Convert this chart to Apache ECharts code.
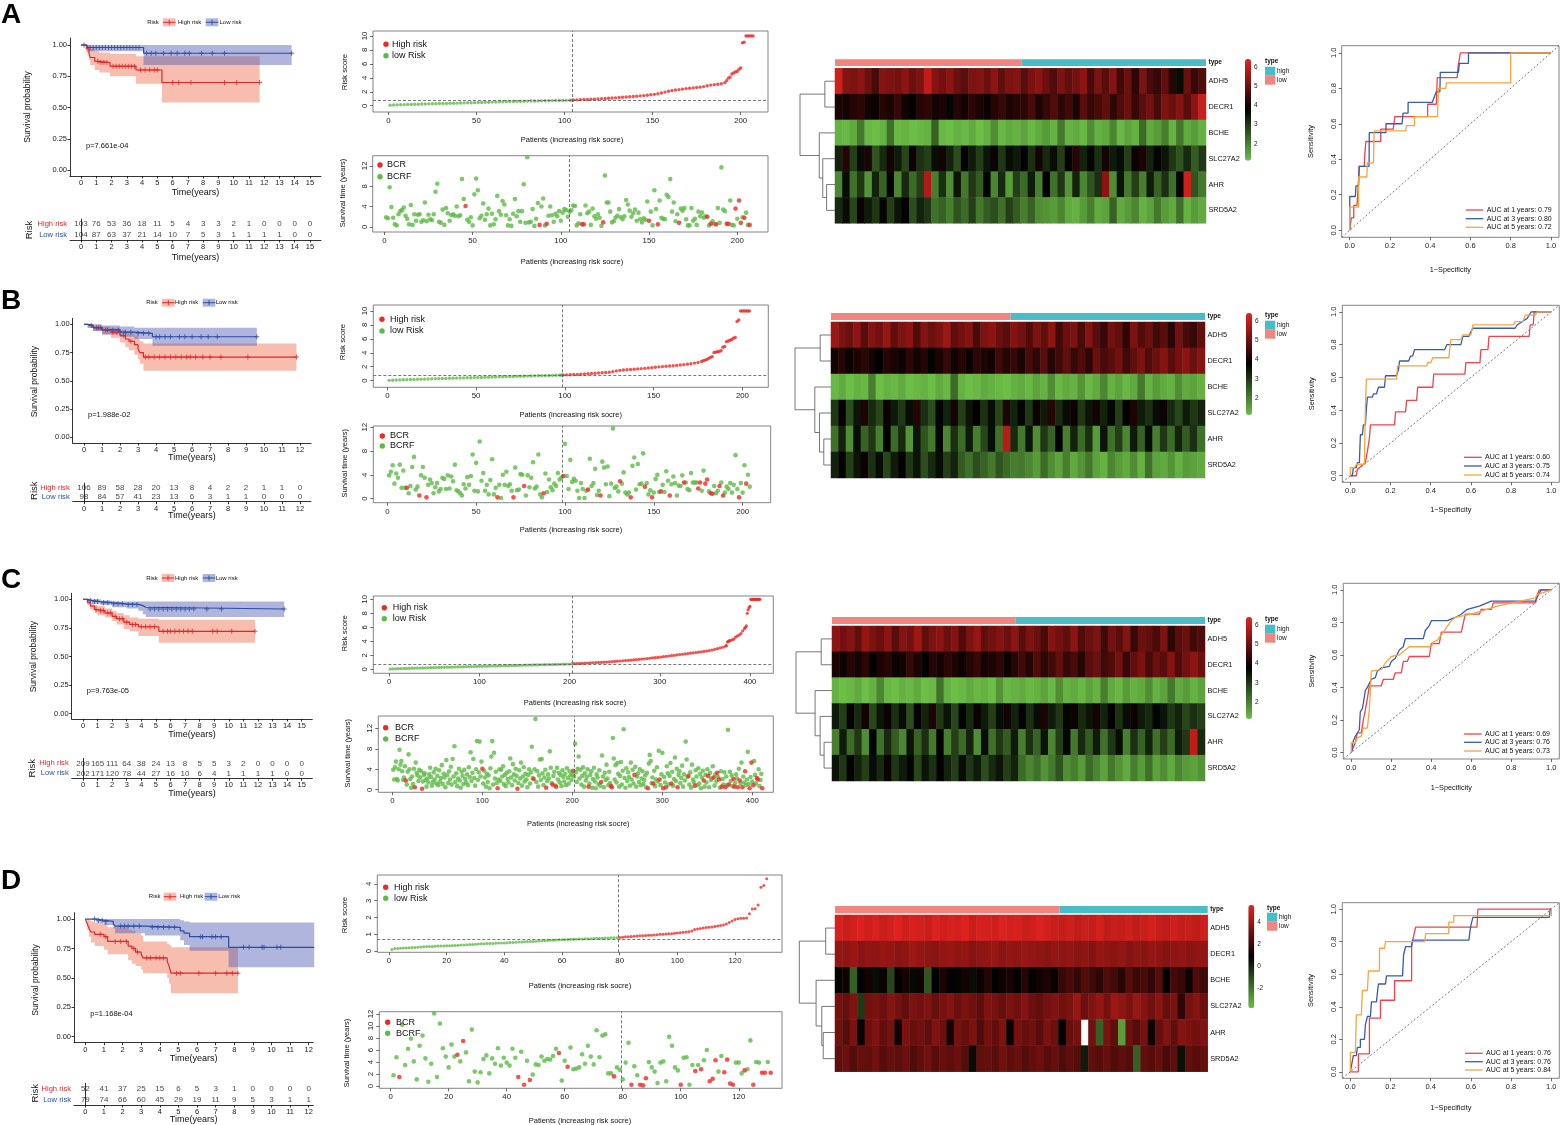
<!DOCTYPE html>
<html>
<head>
<meta charset="UTF-8">
<title>Risk model panels</title>
<script src="https://cdn.jsdelivr.net/npm/echarts@6.0.0/dist/echarts.min.js"></script>
<style>
html,body{margin:0;padding:0;background:#fff;}
#main{width:1561px;height:1125px;}
</style>
</head>
<body>
<div id="main"></div>
<script>
// ---------------- data ----------------
var genes = ['ADH5','DECR1','BCHE','SLC27A2','AHR','SRD5A2'];
var years15 = [0,1,2,3,4,5,6,7,8,9,10,11,12,13,14,15];
var years12 = [0,1,2,3,4,5,6,7,8,9,10,11,12];
var probTicks = [0,0.25,0.5,0.75,1];
var rocTicks = [0,0.2,0.4,0.6,0.8,1];

// Kaplan-Meier steps [time, survival], bands [time, lower, upper], censor times
var kmA_high = [[0,1],[0.35,0.97],[0.52,0.93],[0.6,0.9],[0.9,0.87],[1.2,0.86],[1.9,0.83],[3.6,0.8],[5.3,0.7],[11.7,0.7]];
var kmA_highBand = [[0,1,1],[0.35,0.94,1],[0.52,0.88,0.99],[0.6,0.84,0.97],[0.9,0.8,0.95],[1.2,0.78,0.94],[1.9,0.75,0.93],[3.6,0.69,0.91],[5.3,0.54,0.91],[11.7,0.54,0.91]];
var kmA_low = [[0,1],[0.4,0.98],[4.1,0.934],[13.8,0.934]];
var kmA_lowBand = [[0,1,1],[0.4,0.95,1],[4.1,0.84,1],[13.8,0.84,1]];
var censA_high = [1.1,1.3,1.5,1.7,2.1,2.3,2.5,2.7,2.9,3.1,3.3,3.5,3.9,4.2,4.5,4.8,5.0,6.0,6.4,7.2,9.4,10.2,11.7];
var censA_low = [0.2,0.6,0.8,1.0,1.2,1.4,1.6,1.8,2.0,2.2,2.4,2.6,2.8,3.0,3.2,3.4,3.6,3.8,4.3,4.6,4.9,5.4,5.9,6.3,6.8,7.1,7.9,8.6,9.4,13.8];
var tabA_high = [103,76,53,36,18,11,5,4,3,3,2,1,0,0,0,0];
var tabA_low = [104,87,63,37,21,14,10,7,5,3,1,1,1,1,0,0];

var kmB_high = [[0,1],[0.2,0.99],[0.5,0.97],[1.0,0.95],[1.5,0.93],[2.0,0.9],[2.3,0.87],[2.5,0.85],[2.8,0.82],[3.0,0.78],[3.1,0.75],[3.3,0.71],[11.8,0.71]];
var kmB_highBand = [[0,1,1],[0.2,0.97,1],[0.5,0.94,0.99],[1.0,0.91,0.98],[1.5,0.88,0.97],[2.0,0.84,0.95],[2.3,0.8,0.93],[2.5,0.77,0.92],[2.8,0.73,0.9],[3.0,0.69,0.87],[3.1,0.65,0.85],[3.3,0.59,0.83],[11.8,0.59,0.83]];
var kmB_low = [[0,1],[0.2,0.99],[0.5,0.97],[1.0,0.95],[2.0,0.93],[2.8,0.92],[3.8,0.89],[9.6,0.89]];
var kmB_lowBand = [[0,1,1],[0.2,0.97,1],[0.5,0.94,1],[1.0,0.91,0.99],[2.0,0.89,0.98],[2.8,0.87,0.97],[3.8,0.81,0.97],[9.6,0.81,0.97]];
var censB_high = [0.8,1.2,1.6,1.8,2.2,2.6,3.4,3.6,3.9,4.2,4.5,4.8,5.1,5.4,5.7,5.9,6.2,6.6,7.0,7.6,9.1,11.8];
var censB_low = [0.4,0.7,0.9,1.3,1.6,1.9,2.3,2.6,3.0,3.3,3.6,4.0,4.2,4.5,4.8,5.3,5.6,6.0,6.5,6.9,7.4,9.6];
var tabB_high = [106,89,58,28,20,13,8,4,2,2,1,1,0];
var tabB_low = [98,84,57,41,23,13,6,3,1,1,0,0,0];

var kmC_high = [[0,1],[0.3,0.97],[0.5,0.94],[0.8,0.91],[1.0,0.9],[1.5,0.88],[2.0,0.85],[2.3,0.83],[2.8,0.8],[3.2,0.78],[3.8,0.76],[5.2,0.72],[11.8,0.72]];
var kmC_highBand = [[0,1,1],[0.3,0.95,0.99],[0.5,0.91,0.97],[0.8,0.88,0.95],[1.0,0.86,0.94],[1.5,0.84,0.92],[2.0,0.81,0.9],[2.3,0.78,0.88],[2.8,0.74,0.86],[3.2,0.72,0.84],[3.8,0.68,0.83],[5.2,0.62,0.82],[11.8,0.62,0.82]];
var kmC_low = [[0,1],[0.3,0.99],[0.6,0.98],[1.2,0.97],[2.0,0.96],[3.0,0.955],[3.8,0.945],[4.1,0.93],[4.3,0.915],[13.8,0.915]];
var kmC_lowBand = [[0,1,1],[0.3,0.97,1],[0.6,0.96,1],[1.2,0.95,0.99],[2.0,0.93,0.98],[3.0,0.92,0.98],[3.8,0.9,0.98],[4.1,0.87,0.98],[4.3,0.845,0.98],[13.8,0.845,0.98]];
var censC_high = [0.9,1.2,1.4,1.7,1.9,2.2,2.5,2.7,3.0,3.4,3.6,4.0,4.3,4.6,4.9,5.5,5.8,6.0,6.3,6.6,6.9,7.2,7.5,8.9,9.2,10.2,11.8];
var censC_low = [0.5,0.8,1.0,1.4,1.7,2.1,2.4,2.7,3.1,3.4,3.7,4.6,4.9,5.2,5.5,5.8,6.1,6.4,6.7,7.0,7.3,7.6,8.5,9.5,13.8];
var tabC_high = [209,165,111,64,38,24,13,8,5,5,3,2,0,0,0,0];
var tabC_low = [202,171,120,78,44,27,16,10,6,4,1,1,1,1,0,0];

var kmD_high = [[0,1],[0.1,0.96],[0.2,0.92],[0.3,0.89],[0.5,0.87],[1.0,0.85],[1.2,0.81],[2.3,0.77],[2.5,0.75],[2.7,0.72],[3.0,0.7],[3.1,0.67],[4.4,0.64],[4.5,0.6],[4.6,0.54],[8.2,0.54]];
var kmD_highBand = [[0,1,1],[0.1,0.91,1],[0.2,0.85,0.99],[0.3,0.8,0.98],[0.5,0.77,0.97],[1.0,0.74,0.96],[1.2,0.7,0.93],[2.3,0.65,0.91],[2.5,0.62,0.9],[2.7,0.6,0.88],[3.0,0.57,0.86],[3.1,0.54,0.81],[4.4,0.5,0.79],[4.5,0.45,0.78],[4.6,0.37,0.76],[8.2,0.37,0.76]];
var kmD_low = [[0,1],[0.6,0.99],[1.0,0.98],[1.5,0.96],[1.6,0.94],[3.2,0.93],[5.1,0.9],[5.3,0.88],[5.6,0.85],[7.7,0.76],[12.3,0.76]];
var kmD_lowBand = [[0,1,1],[0.6,0.97,1],[1.0,0.95,1],[1.5,0.92,1],[1.6,0.88,1],[3.2,0.86,1],[5.1,0.82,0.99],[5.3,0.78,0.98],[5.6,0.73,0.97],[7.7,0.59,0.97],[12.3,0.59,0.97]];
var censD_high = [0.8,1.1,1.6,1.9,2.2,2.6,2.8,3.3,3.5,3.8,4.0,4.2,4.9,5.1,6.1,7.0,7.6,7.9,8.2];
var censD_low = [0.5,0.7,0.9,1.1,1.9,2.1,2.3,2.6,2.9,3.6,3.9,4.2,4.5,4.8,6.2,6.3,6.8,7.0,7.3,8.5,8.8,9.5,9.6,10.3,10.5,12.3];
var tabD_high = [52,41,37,25,15,6,5,3,1,0,0,0,0];
var tabD_low = [79,74,66,60,45,29,19,11,9,5,3,1,1];

var pvals = ['p=7.661e-04','p=1.988e-02','p=9.763e-05','p=1.168e-04'];

// risk scores [patient, score]
var riskA = [[1,0.08],[3,0.1],[5,0.12],[7,0.14],[9,0.16],[11,0.18],[13,0.19],[15,0.21],[17,0.22],[19,0.24],[21,0.25],[23,0.27],[25,0.28],[27,0.29],[29,0.31],[31,0.32],[33,0.33],[35,0.35],[37,0.36],[39,0.37],[41,0.39],[43,0.4],[45,0.42],[47,0.43],[49,0.44],[51,0.46],[53,0.47],[55,0.49],[57,0.5],[59,0.52],[61,0.53],[63,0.55],[65,0.56],[67,0.58],[69,0.59],[71,0.61],[73,0.62],[75,0.63],[77,0.65],[79,0.66],[81,0.67],[83,0.68],[85,0.69],[87,0.7],[89,0.71],[91,0.72],[93,0.73],[95,0.74],[97,0.75],[99,0.76],[101,0.77],[103,0.79],[104,0.8],
 [105,0.82],[107,0.84],[109,0.86],[111,0.88],[113,0.9],[115,0.92],[117,0.94],[119,0.97],[121,1.0],[123,1.03],[125,1.06],[127,1.1],[129,1.13],[131,1.17],[133,1.21],[135,1.25],[137,1.29],[139,1.33],[141,1.37],[143,1.41],[145,1.45],[147,1.5],[149,1.56],[151,1.63],[153,1.72],[155,1.83],[157,1.95],[159,2.07],[161,2.17],[163,2.24],[165,2.31],[167,2.38],[169,2.45],[171,2.5],[173,2.55],[175,2.6],[177,2.66],[179,2.74],[181,2.85],[183,2.95],[185,3.02],[187,3.08],[189,3.15],[191,3.3],[192,3.6],[193,3.95],[194,4.1],[195,4.55],[196,4.7],[197,4.85],[198,4.9],[199,5.2],[200,5.4],[201,9.0],[202,9.1],[203,10],[204,10],[205,10],[206,10],[207,10]];
var riskB = [[1,0.05],[3,0.07],[5,0.09],[7,0.11],[9,0.13],[11,0.15],[13,0.17],[15,0.18],[17,0.2],[19,0.22],[21,0.23],[23,0.25],[25,0.26],[27,0.28],[29,0.29],[31,0.31],[33,0.32],[35,0.34],[37,0.35],[39,0.37],[41,0.38],[43,0.4],[45,0.41],[47,0.43],[49,0.44],[51,0.46],[53,0.47],[55,0.49],[57,0.5],[59,0.52],[61,0.53],[63,0.55],[65,0.56],[67,0.58],[69,0.59],[71,0.6],[73,0.62],[75,0.63],[77,0.64],[79,0.66],[81,0.67],[83,0.69],[85,0.7],[87,0.72],[89,0.73],[91,0.75],[93,0.76],[95,0.78],[97,0.79],[98,0.8],
 [99,0.82],[101,0.84],[103,0.86],[105,0.88],[107,0.9],[109,0.93],[111,0.96],[113,0.99],[115,1.02],[117,1.06],[119,1.1],[121,1.14],[123,1.18],[125,1.22],[127,1.3],[129,1.4],[131,1.48],[133,1.53],[135,1.57],[137,1.61],[139,1.65],[141,1.69],[143,1.73],[145,1.77],[147,1.81],[149,1.86],[151,1.92],[153,1.98],[155,2.02],[157,2.06],[159,2.1],[161,2.14],[163,2.19],[165,2.24],[167,2.3],[169,2.37],[171,2.44],[173,2.52],[175,2.6],[177,2.75],[178,2.85],[179,2.95],[180,3.05],[181,3.2],[182,3.35],[183,3.45],[184,4.05],[185,4.1],[186,4.15],[187,4.2],[188,4.3],[189,4.8],[190,4.9],[191,5.6],[192,5.7],[193,5.8],[194,5.9],[195,6.1],[196,6.2],[197,8.5],[198,8.7],[199,10],[200,10],[201,10],[202,10],[203,10],[204,10]];
var riskC = [[1,0.03],[4,0.05],[7,0.07],[10,0.09],[13,0.1],[16,0.12],[19,0.13],[22,0.14],[25,0.16],[28,0.17],[31,0.18],[34,0.19],[37,0.2],[40,0.21],[43,0.22],[46,0.23],[49,0.25],[52,0.26],[55,0.27],[58,0.28],[61,0.29],[64,0.3],[67,0.31],[70,0.32],[73,0.33],[76,0.34],[79,0.35],[82,0.36],[85,0.37],[88,0.38],[91,0.39],[94,0.4],[97,0.41],[100,0.42],[103,0.43],[106,0.44],[109,0.45],[112,0.46],[115,0.47],[118,0.48],[121,0.49],[124,0.5],[127,0.51],[130,0.52],[133,0.53],[136,0.54],[139,0.55],[142,0.56],[145,0.57],[148,0.58],[151,0.59],[154,0.6],[157,0.61],[160,0.62],[163,0.63],[166,0.64],[169,0.65],[172,0.66],[175,0.67],[178,0.68],[181,0.69],[184,0.7],[187,0.71],[190,0.72],[193,0.74],[196,0.75],[199,0.76],[202,0.78],
 [205,0.8],[208,0.82],[211,0.84],[214,0.86],[217,0.88],[220,0.9],[223,0.92],[226,0.94],[229,0.96],[232,0.98],[235,1.0],[238,1.02],[241,1.04],[244,1.07],[247,1.1],[250,1.13],[253,1.16],[256,1.19],[259,1.22],[262,1.25],[265,1.28],[268,1.31],[271,1.34],[274,1.38],[277,1.42],[280,1.46],[283,1.5],[286,1.54],[289,1.58],[292,1.62],[295,1.66],[298,1.7],[301,1.75],[304,1.8],[307,1.85],[310,1.9],[313,1.95],[316,2.0],[319,2.05],[322,2.1],[325,2.15],[328,2.2],[331,2.25],[334,2.3],[337,2.35],[340,2.4],[343,2.45],[346,2.5],[349,2.55],[352,2.6],[355,2.67],[358,2.75],[361,2.85],[364,2.95],[367,3.05],[370,3.15],[373,3.3],
 [374,3.4],[375,3.9],[376,4.0],[377,4.05],[378,4.1],[380,4.2],[382,4.3],[384,4.6],[386,4.75],[388,4.9],[390,5.1],[392,5.5],[394,5.8],[395,6.0],[396,6.2],[397,8.0],[398,8.5],[399,8.8],[400,9.0],[401,10],[402,10],[403,10],[404,10],[405,10],[406,10],[407,10],[408,10],[409,10],[410,10],[411,10]];
var riskD = [0.1,0.15,0.16,0.17,0.18,0.19,0.2,0.21,0.22,0.23,0.25,0.26,0.27,0.28,0.28,0.29,0.3,0.3,0.31,0.32,
 0.32,0.33,0.34,0.35,0.36,0.37,0.38,0.39,0.4,0.41,0.43,0.44,0.44,0.45,0.46,0.46,0.47,0.48,0.48,0.49,
 0.5,0.51,0.52,0.53,0.54,0.55,0.56,0.57,0.58,0.58,0.59,0.6,0.61,0.62,0.63,0.64,0.65,0.66,0.67,0.67,
 0.68,0.69,0.7,0.71,0.71,0.72,0.72,0.73,0.74,0.74,0.75,0.76,0.77,0.77,0.78,0.78,0.79,0.8,0.8,
 0.81,0.83,0.85,0.86,0.87,0.88,0.9,0.91,0.92,0.93,0.94,0.95,0.96,0.98,1.0,1.01,1.02,1.03,1.04,1.06,
 1.08,1.1,1.12,1.14,1.16,1.2,1.28,1.32,1.35,1.38,1.4,1.42,1.44,1.46,1.5,1.52,1.55,1.62,1.7,1.8,
 1.88,1.93,1.95,1.96,1.97,2.22,2.5,2.52,2.75,3.8,3.9,4.3];

// survival time per patient (years) and BCR patients
var survA = [1.9,1.7,7.8,3.9,1.8,0.5,0.3,2.5,3.1,3.3, 3.8,2.2,1.6,0.5,4.3,0.4,2.5,1.2,2.4,2.5,
 1.0,1.3,4.8,1.1,2.4,1.5,1.3,2.5,6.9,8.5, 1.0,0.8,3.4,0.4,3.7,2.7,1.2,2.3,2.5,2.2,
 4.0,2.1,2.3,9.4,5.5,4.1,1.4,1.0,1.9,0.3, 6.4,9.5,7.2,1.7,2.2,4.6,1.4,2.5,3.6,0.3,
 2.6,0.5,1.5,6.1,3.1,2.4,5.1,4.4,2.3,0.3, 1.5,0.2,2.6,5.5,2.1,3.1,1.0,3.1,8.4,0.8,
 13.7,0.9,1.0,3.5,0.2,1.6,4.7,0.4,4.0,5.6, 0.3,0.6,2.2,4.0,2.3,1.0,2.6,2.1,3.1,1.2,
 2.8,3.5,3.3,2.0,3.0,3.3,4.2,4.1,0.3,0.7, 2.5,0.5,0.5,4.2,2.7,3.0,0.4,3.6,2.1,1.6,
 2.5,1.8,0.2,0.9,10.1,4.8,4.8,3.0,0.9,1.1, 1.8,2.2,3.5,1.9,1.5,2.1,5.3,4.4,3.2,2.0,
 2.7,3.4,1.2,2.8,1.5,0.9,1.7,1.4,5.0,1.2, 3.0,0.3,7.2,3.5,0.5,5.2,1.8,1.6,1.5,6.3,
 5.9,9.4,3.0,4.8,1.1,2.5,0.8,3.6,3.2,3.7, 1.5,0.3,0.3,3.7,1.2,1.6,0.4,3.0,2.1,2.8,
 1.8,2.1,2.0,0.3,0.6,1.1,0.6,0.5,3.7,0.8, 11.7,3.4,3.1,0.6,0.6,5.2,0.4,0.3,3.6,1.6,
 5.2,0.8,1.9,1.8,2.8,0.4,0.4];
var bcrA = [46,88,92,112,113,124,150,155,167,183,185,188,194,195,199,201,202,204,207];
var survB = [3.9,4.5,5.6,2.5,4.2,3.5,5.7,1.8,4.7,1.8, 1.8,0.9,2.1,5.3,7.0,1.5,2.0,0.5,3.9,5.3,
 3.5,0.2,2.3,3.2,2.6,0.9,1.9,2.6,1.2,1.6, 3.5,3.3,1.6,3.9,1.7,3.7,2.9,5.7,1.4,1.2,
 0.9,0.5,2.4,1.7,3.6,2.3,3.8,7.4,1.3,6.0, 1.2,9.6,3.0,4.3,1.3,2.3,0.7,3.1,6.6,0.7,
 1.8,0.2,2.3,0.1,4.0,2.3,4.5,2.1,2.4,1.3, 0.2,5.2,1.4,1.5,4.1,4.0,2.1,0.5,3.9,1.9,
 3.5,6.1,1.7,2.0,7.4,0.7,0.2,0.9,4.2,1.1, 3.2,1.9,1.4,2.5,2.1,4.3,3.2,3.5,3.8,9.2,
 3.8,1.6,6.5,2.8,3.3,3.0,1.3,0.1,2.6,1.6, 0.1,1.3,1.5,6.7,2.1,2.6,5.0,0.6,1.3,0.5,
 6.2,5.2,2.4,5.4,0.4,2.5,11.8,1.8,2.0,1.2, 2.9,2.5,4.4,1.0,0.7,1.0,0.2,5.5,6.9,1.5,
 5.8,2.4,2.5,7.6,2.0,2.6,0.7,1.4,0.2,1.0, 3.3,4.0,1.1,1.2,2.3,1.1,4.6,3.0,0.5,2.4,
 3.7,2.6,0.5,2.2,2.1,3.9,2.7,2.7,1.6,1.4, 4.3,2.7,2.7,2.7,1.7,2.7,1.3,4.7,2.5,3.2,
 1.2,0.9,0.8,2.1,0.9,1.3,2.1,2.7,0.5,1.0, 2.0,1.6,2.6,1.0,2.3,7.3,1.6,0.2,2.6,1.0,
 5.6,2.5,4.0,2.0];
var bcrB = [11,18,22,62,71,77,88,99,113,120,131,137,145,149,154,159,167,175,176,179,180,182,183,187,189,198,202];
var survC = [3.9,2.0,4.4,5.5,2.1,1.8,4.0,7.8,4.9,5.6, 3.6,1.9,2.4,4.6,1.8,1.0,3.5,6.9,4.0,2.1,
 0.4,2.6,1.1,4.1,0.5,5.3,3.3,2.8,1.7,3.9, 2.4,3.6,0.2,1.6,2.9,3.2,1.9,0.6,2.2,1.4,
 3.0,4.3,2.5,0.8,1.5,3.4,2.0,4.1,1.2,2.7, 0.9,3.8,1.6,2.3,4.8,1.1,3.1,2.4,0.5,5.8,
 2.9,1.3,3.6,2.0,4.5,1.0,6.0,2.6,8.5,1.5, 3.2,0.7,2.2,4.1,1.8,0.4,3.5,2.7,1.1,3.9,
 2.1,1.4,3.0,0.9,4.4,2.5,7.3,1.7,3.3,6.0, 2.3,0.8,4.0,9.5,1.9,3.4,9.4,2.6,5.5,4.1,
 1.2,3.7,2.4,0.6,3.1,1.5,2.8,0.3,4.2,6.5, 9.5,1.0,7.2,2.2,3.5,1.3,0.3,2.0,4.0,1.7,
 3.9,2.6,4.6,1.1,2.9,0.7,3.3,2.1,1.4,3.6, 6.1,2.4,0.9,5.0,3.0,1.8,4.1,2.7,0.2,1.3,
 3.8,2.2,5.3,0.8,2.6,4.4,1.6,3.1,2.0,0.5, 2.9,4.0,1.2,3.4,8.4,2.3,2.1,4.0,13.8,1.5,
 3.6,0.6,2.8,5.9,1.9,6.0,3.2,0.9,2.4,3.9, 0.4,1.7,3.0,2.2,7.5,4.3,1.3,1.0,2.7,3.5,
 0.8,0.6,4.3,2.0,3.3,1.4,2.9,0.7,3.8,2.5, 1.6,3.1,0.9,4.2,2.3,1.2,3.6,2.8,1.9,3.0,
 3.7,2.6,9.0,3.4,1.5,4.1,6.5,2.2,3.9,1.0, 2.7,4.4,0.6,3.2,1.8,2.5,4.0,0.6,1.2,2.9,
 3.6,0.4,2.1,4.3,1.6,0.3,3.0,2.4,1.1,3.8, 0.8,1.5,6.7,2.6,0.5,3.3,1.9,4.9,2.2,0.9,
 3.5,1.3,0.7,0.5,10.1,6.1,2.0,4.8,1.4,5.2, 3.1,0.6,2.7,5.4,1.0,3.7,11.8,2.3,0.4,4.2,
 1.7,3.4,2.5,0.8,5.3,2.0,3.9,1.2,2.9,4.5, 0.6,2.6,3.2,1.5,4.0,0.9,2.2,3.6,1.1,1.9,
 2.8,0.5,3.3,0.3,5.1,6.8,5.6,1.3,2.4,1.2, 3.7,0.7,2.0,4.4,1.6,7.6,2.0,0.9,3.0,7.2,
 0.3,2.5,1.4,0.5,4.6,3.2,1.0,2.7,5.2,1.2, 3.5,0.8,2.1,6.3,1.7,4.1,0.5,2.9,3.6,1.3,
 2.3,4.7,0.6,3.0,1.8,9.4,5.9,2.5,2.7,1.0, 3.4,0.4,4.9,2.0,1.5,0.8,3.8,2.6,0.9,4.2,
 1.2,3.1,0.3,2.4,3.7,1.8,0.6,2.9,1.4,4.0, 2.7,0.5,3.3,1.9,2.2,4.6,2.4,0.8,3.0,1.6,
 3.3,2.5,2.0,0.4,3.6,0.6,2.1,1.0,3.4,0.5, 2.6,0.9,11.7,1.0,3.5,1.7,2.8,0.7,2.1,0.6,
 1.3,3.0,2.2,0.5,4.1,1.8,1.2,5.3,0.5,2.6, 1.4,3.6,0.9,2.0,7.4,1.1,0.3,2.5,5.3,1.6,
 0.9,5.6,2.9,1.2,2.3,2.0,4.0,0.7,1.9,3.1,0.3];
var bcrC = [15,25,33,100,117,139,157,171,178,182,201,218,232,243,244,269,284,290,297,301,304,310,317,329,336,346,351,357,361,363,366,370,374,379,380,384,386,389,392,397,399,401,405,406,411];
var survD = [1.8,4.8,1.5,10.2,3.5,6.2,7.9,4.1,1.1,6.7, 8.4,4.6,0.7,3.7,12.1,1.5,10.4,6.3,4.9,3.1,
 6.9,4.9,5.2,4.1,7.5,5.6,0.8,9.4,2.4,0.6, 2.3,4.5,5.1,2.1,4.6,3.7,6.3,3.4,4.7,3.9,
 3.4,6.2,4.7,1.5,5.7,0.2,4.2,1.0,1.9,3.6, 3.5,4.9,4.2,4.5,4.4,5.0,6.2,5.5,0.9,4.2,
 3.2,6.4,2.8,2.9,3.1,5.3,3.7,6.7,4.9,3.6, 9.3,4.8,8.4,8.6,2.1,2.1,1.6,3.1,2.7,1.1,
 3.9,7.2,0.2,3.3,1.8,0.2,0.1,1.3,4.0,3.1, 2.4,0.5,3.9,4.1,0.8,8.2,6.7,3.1,2.6,0.2,
 4.7,4.8,0.2,3.5,2.5,3.5,2.8,4.3,6.0,0.8, 1.2,4.3,2.4,5.0,2.3,4.4,0.4,0.2,3.9,3.9,
 2.1,2.6,2.8,7.6,0.2,4.0,3.9,2.2,2.2,4.0, 2.2];
var bcrD = [3,23,25,44,46,48,58,61,77,83,86,87,88,100,105,107,110,111,112,115,116,117,118,122,125,128,129,131];

// heatmap expression (columns ordered by risk score, 50 bins)
var hmA_ADH5 = [6.2,5.3,5.2,5.4,5.0,4.6,5.3,5.2,5.1,5.4,5.0,5.2,6.0,5.3,5.1,5.4,5.0,4.8,5.2,5.3,5.0,5.4,4.9,5.2,5.3, 4.8,5.2,5.4,5.0,4.7,5.2,4.9,5.1,5.4,4.6,5.2,4.8,5.3,4.5,5.0,4.3,5.2,4.6,4.4,4.9,4.2,3.6,5.0,4.4,4.7];
var hmA_DECR1 = [4.1,4.0,4.2,4.3,4.0,3.9,4.2,4.1,4.4,4.0,3.8,4.2,4.3,4.0,4.1,3.7,4.2,4.0,4.3,4.1,3.9,4.2,4.4,4.1,4.2, 4.3,4.6,4.1,4.4,4.7,4.3,4.5,4.1,4.8,4.4,4.6,4.9,4.3,4.7,5.0,4.4,4.8,5.1,4.6,5.2,5.0,5.3,4.8,5.4,6.1];
var hmA_BCHE = [1.3,1.2,1.4,2.1,1.2,1.1,1.3,2.2,1.2,1.3,1.1,1.2,1.3,2.4,1.2,1.1,1.3,1.2,1.4,1.1,1.3,1.8,1.2,1.4,1.3, 1.5,1.2,1.4,1.6,1.3,2.1,1.3,1.4,1.2,1.8,1.3,1.4,1.9,1.2,1.5,1.3,2.3,1.4,1.6,2.0,1.3,2.1,1.4,1.6,1.3];
var hmA_SLC27A2 = [3.3,4.2,2.9,3.6,4.1,2.6,3.2,4.0,3.4,2.8,3.9,3.1,2.9,3.6,4.0,3.3,2.7,3.8,3.4,2.9,3.5,3.9,3.0,3.6,3.4, 3.8,3.1,4.0,3.2,3.6,2.9,3.8,4.2,3.3,3.7,3.1,4.0,3.4,3.6,2.9,3.9,4.1,3.3,3.7,3.5,3.0,2.6,3.2,2.5,3.0];
var hmA_AHR = [1.9,3.6,2.2,3.0,1.7,3.3,2.4,3.8,1.9,3.2,2.3,2.9,5.8,2.0,3.1,1.8,3.5,2.1,3.0,2.5,3.7,1.9,3.2,1.6,2.9, 2.3,3.4,2.0,3.8,2.2,3.0,1.7,3.3,1.9,2.6,3.1,5.4,1.8,3.5,2.1,2.9,2.0,3.4,2.4,3.1,2.2,3.7,6.2,2.6,2.1];
var hmA_SRD5A2 = [3.2,3.6,2.8,3.9,3.4,3.0,3.7,2.9,3.5,3.8,2.7,3.3,3.0,2.2,2.4,2.0,2.6,2.3,2.9,2.1,2.5,2.7,2.2,2.9,2.5, 2.0,2.4,1.8,1.7,1.6,1.9,1.4,1.3,1.6,2.0,1.4,1.5,2.4,1.4,1.6,1.9,1.3,1.5,2.1,1.6,1.4,2.2,1.3,1.6,1.4];

var hmB_ADH5 = [5.6,5.2,5.0,5.4,4.8,5.3,5.1,5.5,4.9,5.2,5.4,4.7,5.3,5.0,5.2,5.6,4.9,5.1,5.3,4.6,5.2,5.4,5.0,4.8,5.3, 5.1,4.7,5.2,4.9,5.4,4.5,5.0,5.2,4.6,5.3,4.8,4.4,5.1,4.9,4.3,5.2,4.7,5.0,4.5,4.8,4.2,5.1,4.6,4.4,4.9];
var hmB_DECR1 = [4.0,4.2,3.9,4.1,4.3,4.0,3.8,4.2,4.1,3.9,4.3,4.0,4.2,3.7,4.1,4.4,4.0,4.2,3.9,4.3,4.1,4.0,4.5,4.2,4.4, 4.1,4.6,4.3,4.8,4.2,4.5,4.9,4.4,4.7,4.3,5.0,4.6,4.8,5.1,4.5,4.9,5.2,4.7,5.0,5.3,4.8,5.1,5.4,5.0,5.3];
var hmB_BCHE = [1.2,1.4,1.1,1.3,1.2,2.0,1.1,1.3,1.2,1.4,1.1,1.2,1.3,1.1,1.4,1.2,2.3,1.3,1.1,1.2,1.4,1.3,1.2,1.1,1.3, 1.4,1.2,1.5,1.3,1.8,1.2,1.4,1.3,1.7,1.2,1.4,1.9,1.3,1.5,1.2,1.4,2.1,1.3,1.6,1.4,1.3,1.8,1.4,1.5,1.3];
var hmB_SLC27A2 = [3.0,3.8,2.7,3.5,4.1,3.2,2.8,3.9,3.4,3.0,3.6,4.2,3.1,2.7,3.7,3.3,4.0,2.9,3.5,3.8,3.1,3.6,2.8,4.1,3.3, 3.7,3.0,3.9,3.4,4.2,3.2,3.6,3.9,3.0,3.5,4.0,3.3,3.7,2.9,3.8,4.1,3.4,3.1,3.6,3.9,3.2,2.8,3.4,3.0,3.3];
var hmB_AHR = [2.2,3.3,1.8,3.6,2.4,3.0,2.0,3.8,2.3,3.2,1.7,3.5,2.6,2.1,3.7,1.9,3.1,2.3,3.4,2.0,2.8,3.6,2.2,5.9,3.2, 2.1,3.5,1.8,3.0,2.4,3.8,2.0,3.3,2.3,3.1,1.6,3.5,2.2,2.9,1.9,3.4,2.4,3.6,2.0,3.0,2.3,3.3,2.5,3.1,2.2];
var hmB_SRD5A2 = [3.3,3.7,2.9,3.5,3.9,3.1,3.6,2.8,3.4,3.8,3.0,3.5,2.7,3.2,3.6,2.9,3.3,2.5,2.2,2.7,2.4,2.1,2.6,2.3,2.0, 2.1,1.9,1.6,2.3,1.8,1.5,2.0,1.4,1.7,2.1,1.5,1.3,1.9,1.6,1.4,1.8,1.3,2.2,1.5,1.4,1.7,1.3,1.6,1.5,1.4];

var hmC_ADH5 = [5.4,5.1,5.3,4.9,5.5,5.2,5.0,5.4,4.8,5.3,5.1,5.6,4.9,5.2,5.4,5.0,5.3,4.7,5.2,5.5,4.9,5.1,5.3,5.0,5.4, 4.8,5.2,5.0,4.6,5.3,5.1,4.9,5.4,4.7,5.0,5.2,4.5,5.1,4.8,5.3,4.4,5.0,4.9,4.6,5.2,4.3,4.8,5.0,4.5,4.7];
var hmC_DECR1 = [4.1,3.9,4.2,4.0,4.3,3.8,4.1,4.2,3.9,4.0,4.4,4.1,3.8,4.2,4.0,4.3,4.1,3.9,4.2,4.4,4.0,4.1,4.3,3.9,4.2, 4.5,4.2,4.7,4.3,4.5,4.9,4.4,4.6,4.2,4.8,5.0,4.5,4.7,5.1,4.4,4.9,5.2,4.6,5.0,4.8,5.3,4.7,5.1,5.4,5.0];
var hmC_BCHE = [1.3,1.1,1.2,1.4,1.1,1.3,1.9,1.2,1.1,1.3,1.2,1.4,1.1,1.2,2.2,1.3,1.1,1.2,1.4,1.2,1.3,1.1,1.7,1.2,1.3, 1.4,1.2,1.3,1.5,1.2,1.8,1.3,1.4,1.2,1.5,1.3,2.0,1.4,1.2,1.6,1.3,1.4,1.8,1.3,1.5,2.1,1.4,1.6,1.3,1.5];
var hmC_SLC27A2 = [3.4,2.9,3.8,3.2,4.0,2.8,3.5,3.9,3.1,3.6,2.7,3.8,3.3,4.1,3.0,3.5,2.8,3.7,3.2,3.9,3.4,2.9,3.6,4.0,3.3, 3.8,3.1,3.6,4.1,3.4,3.0,3.7,3.9,3.2,3.5,4.0,3.3,3.8,3.1,3.6,3.9,3.4,3.2,3.7,3.5,3.0,3.3,2.8,3.1,2.9];
var hmC_AHR = [2.0,3.4,2.3,3.0,1.8,3.7,2.2,3.2,2.5,1.9,3.5,2.4,3.1,2.1,3.8,2.0,2.9,2.3,3.3,1.8,3.6,2.2,3.0,2.5,3.4, 2.0,3.1,2.4,3.5,1.9,2.9,3.7,2.1,3.2,2.5,3.4,2.2,3.0,3.6,2.0,3.1,2.4,3.3,2.2,2.9,2.3,3.4,3.0,6.0,3.2];
var hmC_SRD5A2 = [3.5,3.0,3.8,3.3,2.9,3.6,3.2,3.9,3.0,3.4,3.7,2.8,3.5,3.1,3.8,3.3,2.9,3.6,3.0,3.4,2.7,3.2,3.5,2.9,3.3, 2.3,1.9,2.2,1.7,2.1,2.6,1.8,2.0,1.6,2.3,1.9,1.5,2.1,1.7,1.4,2.0,1.6,2.2,1.5,1.8,1.4,1.9,1.6,1.5,1.7];

var hmD_ADH5 = [5.3,5.0,5.2,5.4,5.1,5.3,5.0,5.2,5.5,5.1,5.3,5.2,5.0,5.4,5.1,5.3,5.2,5.5,5.0,5.3,5.2,5.1,5.4,5.2,5.3, 5.0,5.1,5.4,5.2,5.0,4.9,5.1,4.8,5.0,4.9,5.2,4.8,5.0,4.9,5.1,4.8,5.0,5.2,4.9,4.8,5.1,4.9,5.0,4.8,5.1];
var hmD_DECR1 = [3.9,3.8,4.0,3.7,3.9,3.8,4.0,3.9,3.7,3.8,4.1,3.9,3.8,3.7,3.9,4.0,3.8,3.9,3.6,3.8,3.9,4.0,3.7,3.9,3.8, 4.0,3.9,3.8,3.7,3.9,3.8,3.9,3.7,3.8,3.6,3.9,3.8,3.7,3.9,3.6,3.8,3.7,3.9,3.8,3.6,3.8,3.9,3.7,3.8,3.9];
var hmD_BCHE = [0.8,1.2,-1.5,0.9,1.3,0.6,1.1,-0.8,1.0,1.4,0.7,1.2,-1.2,0.9,1.5,1.0,0.8,1.3,0.6,1.1,1.6,0.9,1.2,1.4,1.0, 1.7,0.8,1.3,1.5,1.1,2.0,2.4,1.9,2.6,2.2,1.8,2.5,2.3,1.7,2.6,2.1,2.4,1.9,2.7,0.9,2.3,2.0,1.2,2.5,2.2];
var hmD_SLC27A2 = [3.3,3.0,3.5,-0.5,3.2,3.4,3.1,3.6,3.3,2.9,3.4,3.2,3.5,3.0,3.3,3.6,3.1,3.4,3.2,2.8,3.5,3.3,3.0,3.4,3.2, 3.6,3.1,2.9,3.3,3.5,3.2,3.4,4.0,3.1,3.5,3.9,3.3,4.1,3.8,3.4,4.0,3.6,3.2,3.7,3.0,3.4,1.8,3.3,3.6,3.1];
var hmD_AHR = [3.2,2.6,3.4,1.0,3.1,3.5,2.9,3.3,1.2,3.4,3.0,3.2,2.8,3.5,3.1,1.3,3.3,3.0,3.4,2.5,3.2,2.9,3.5,1.1,3.3, 3.0,3.2,2.7,3.4,3.1,0.9,3.0,3.3,null,3.2,-1.5,3.4,2.8,-3.0,3.1,2.6,3.3,1.2,3.0,3.5,2.9,3.6,3.4,3.2,3.5];
var hmD_SRD5A2 = [2.8,3.1,2.6,3.0,2.9,3.2,2.7,3.0,2.8,3.1,2.5,2.9,3.2,2.7,3.0,2.8,3.1,2.6,0.6,2.9,3.0,2.7,3.2,2.8,3.0, 2.6,2.9,3.1,2.7,3.0,2.5,2.8,2.6,0.2,2.9,2.7,3.0,2.5,2.8,2.6,-1.5,2.9,2.7,3.0,2.4,2.8,0.5,2.9,2.7,3.0];

// dendrogram merge heights: ADH5+DECR1, AHR+SRD5A2, SLC27A2+(..), BCHE+(..), root
var dendA = [0.29,0.24,0.35,0.45,1];
var dendB = [0.3,0.2,0.32,0.45,1];
var dendC = [0.3,0.22,0.33,0.47,1];
var dendD = [0.26,0.33,0.37,0.53,1];

// ROC vertices [1-specificity, sensitivity]
var rocA_1 = [[0,0],[0.008,0],[0.008,0.07],[0.02,0.07],[0.02,0.14],[0.036,0.14],[0.04,0.21],[0.047,0.36],[0.072,0.36],[0.075,0.43],[0.08,0.5],[0.154,0.5],[0.154,0.57],[0.216,0.57],[0.224,0.64],[0.387,0.64],[0.387,0.71],[0.43,0.71],[0.435,0.86],[0.534,0.86],[0.538,0.92],[0.55,1],[1,1]];
var rocA_3 = [[0,0],[0,0.19],[0.028,0.19],[0.031,0.25],[0.044,0.25],[0.047,0.36],[0.096,0.36],[0.097,0.55],[0.18,0.55],[0.18,0.6],[0.26,0.6],[0.265,0.66],[0.29,0.66],[0.29,0.72],[0.41,0.72],[0.43,0.78],[0.448,0.78],[0.45,0.89],[0.54,0.89],[0.545,0.94],[0.59,0.94],[0.59,1],[1,1]];
var rocA_5 = [[0,0],[0,0.13],[0.044,0.13],[0.044,0.3],[0.085,0.3],[0.088,0.38],[0.118,0.38],[0.121,0.56],[0.278,0.56],[0.281,0.59],[0.322,0.59],[0.322,0.64],[0.436,0.64],[0.441,0.8],[0.477,0.8],[0.48,0.83],[0.8,0.83],[0.8,1],[1,1]];
var rocB_1 = [[0,0],[0.03,0],[0.035,0.04],[0.075,0.08],[0.085,0.15],[0.095,0.23],[0.1,0.31],[0.22,0.31],[0.225,0.39],[0.275,0.39],[0.28,0.46],[0.33,0.46],[0.335,0.54],[0.41,0.54],[0.415,0.62],[0.57,0.62],[0.575,0.69],[0.645,0.69],[0.65,0.77],[0.685,0.77],[0.69,0.85],[0.89,0.85],[0.895,0.92],[0.91,0.92],[0.915,1],[1,1]];
var rocB_3 = [[0,0],[0.01,0],[0.015,0.05],[0.03,0.05],[0.035,0.08],[0.045,0.08],[0.05,0.25],[0.06,0.25],[0.065,0.31],[0.075,0.31],[0.08,0.41],[0.085,0.48],[0.11,0.48],[0.115,0.5],[0.13,0.5],[0.14,0.54],[0.17,0.54],[0.175,0.61],[0.23,0.61],[0.24,0.65],[0.245,0.7],[0.29,0.7],[0.3,0.73],[0.31,0.73],[0.32,0.77],[0.47,0.77],[0.48,0.8],[0.55,0.8],[0.56,0.85],[0.59,0.85],[0.6,0.88],[0.61,0.9],[0.82,0.9],[0.83,0.92],[0.88,0.96],[0.9,1],[1,1]];
var rocB_5 = [[0,0],[0,0.05],[0.02,0.05],[0.03,0.07],[0.07,0.07],[0.075,0.42],[0.08,0.59],[0.23,0.59],[0.235,0.67],[0.38,0.67],[0.385,0.69],[0.4,0.69],[0.41,0.72],[0.49,0.72],[0.5,0.83],[0.55,0.83],[0.56,0.86],[0.6,0.86],[0.61,0.92],[0.81,0.92],[0.82,0.94],[0.86,0.94],[0.87,0.98],[0.92,0.98],[0.93,1],[1,1]];
var rocC_1 = [[0,0],[0.02,0.06],[0.03,0.12],[0.05,0.12],[0.06,0.2],[0.07,0.26],[0.08,0.33],[0.09,0.41],[0.15,0.41],[0.16,0.45],[0.21,0.45],[0.22,0.49],[0.25,0.49],[0.26,0.56],[0.28,0.56],[0.29,0.59],[0.39,0.59],[0.4,0.67],[0.44,0.67],[0.45,0.74],[0.55,0.74],[0.57,0.85],[0.64,0.85],[0.65,0.88],[0.7,0.88],[0.71,0.92],[0.92,0.92],[0.93,0.97],[0.94,1],[1,1]];
var rocC_3 = [[0,0],[0.01,0.07],[0.02,0.1],[0.03,0.12],[0.04,0.14],[0.045,0.25],[0.055,0.27],[0.06,0.3],[0.07,0.38],[0.08,0.4],[0.09,0.4],[0.1,0.45],[0.12,0.46],[0.13,0.5],[0.15,0.52],[0.19,0.53],[0.2,0.56],[0.22,0.58],[0.24,0.63],[0.26,0.65],[0.27,0.7],[0.36,0.7],[0.37,0.75],[0.39,0.78],[0.4,0.81],[0.48,0.81],[0.52,0.83],[0.55,0.85],[0.58,0.88],[0.64,0.9],[0.7,0.93],[0.92,0.93],[0.94,0.98],[0.95,1],[1,1]];
var rocC_5 = [[0,0],[0,0.06],[0.02,0.06],[0.03,0.09],[0.05,0.1],[0.06,0.15],[0.08,0.15],[0.09,0.26],[0.1,0.26],[0.1,0.5],[0.15,0.51],[0.17,0.55],[0.2,0.59],[0.24,0.6],[0.29,0.65],[0.4,0.65],[0.41,0.68],[0.43,0.69],[0.46,0.74],[0.5,0.81],[0.52,0.83],[0.6,0.85],[0.73,0.9],[0.92,0.95],[0.93,0.97],[0.94,0.98],[1,1]];
var rocD_1 = [[0,0],[0.04,0],[0.04,0.11],[0.095,0.11],[0.095,0.33],[0.15,0.33],[0.15,0.44],[0.22,0.44],[0.22,0.56],[0.305,0.56],[0.305,0.78],[0.325,0.89],[0.63,0.89],[0.635,1],[1,1]];
var rocD_3 = [[0,0],[0.015,0.1],[0.03,0.1],[0.035,0.15],[0.05,0.15],[0.05,0.2],[0.07,0.2],[0.075,0.29],[0.085,0.34],[0.1,0.34],[0.105,0.43],[0.13,0.43],[0.135,0.49],[0.14,0.54],[0.175,0.54],[0.18,0.59],[0.26,0.59],[0.265,0.72],[0.275,0.77],[0.305,0.77],[0.31,0.81],[0.59,0.81],[0.595,0.86],[0.6,0.9],[0.61,0.95],[0.99,0.95],[0.995,1],[1,1]];
var rocD_5 = [[0,0],[0,0.12],[0.025,0.12],[0.03,0.35],[0.055,0.35],[0.06,0.5],[0.085,0.5],[0.09,0.62],[0.145,0.62],[0.145,0.76],[0.17,0.76],[0.175,0.8],[0.37,0.8],[0.375,0.85],[0.49,0.85],[0.49,0.92],[0.515,0.92],[0.515,0.96],[1,0.96],[1,1]];
var aucA = ['0.79','0.80','0.72'], aucB = ['0.60','0.75','0.74'], aucC = ['0.69','0.76','0.73'], aucD = ['0.76','0.76','0.84'];

// ---------------- styles ----------------
var FONT = '"Liberation Sans", Arial, Helvetica, sans-serif';
var C_HIGH = '#E3262B', C_LOW = '#2B4EA2';
var C_HIGH_BAND = 'rgba(238,108,78,0.45)', C_LOW_BAND = 'rgba(78,92,178,0.45)';
var C_RED = '#EC2A25', C_GREEN = '#5DBA45';
var C_ROC = ['#F0434C', '#3A5BAA', '#F8A53C'];
var C_TLOW = '#F4847E', C_THIGH = '#48BDC7';
var HM_COLORS = ['#6CBE47', '#000000', '#E5231F'];
var CROSS = 'path://M4,0H6V4H10V6H6V10H4V6H0V4H4Z';

var option = {animation:false, backgroundColor:'#fff', textStyle:{fontFamily:FONT},
  grid:[], xAxis:[], yAxis:[], series:[], visualMap:[], graphic:{elements:[]}};
var G = option.graphic.elements;

function grid(l, t, w, h, box) {
  var g = {left:l, top:t, width:w, height:h, containLabel:false, outerBoundsMode:'none'};
  if (box) { g.show = true; g.borderColor = '#666'; g.borderWidth = 0.8; g.backgroundColor = 'transparent'; }
  option.grid.push(g);
  return option.grid.length - 1;
}
function vAxis(kind, gi, min, max, ticks, o) {
  o = o || {};
  var col = o.lineColor || '#000';
  var a = {type:'value', gridIndex:gi, min:min, max:max, show:o.show !== false,
    axisLine:{show:o.line !== false, onZero:false, lineStyle:{color:col, width:0.8}},
    axisTick:{show:!!ticks && !o.noTick, customValues:ticks || undefined, length:o.tickLen || 2.5, lineStyle:{color:col, width:0.8}},
    axisLabel:{show:!!ticks, customValues:ticks || undefined, fontSize:o.fs || 7.5, color:'#222', margin:o.margin || 3, rotate:o.rot || 0, formatter:o.fmt},
    splitLine:{show:false}};
  if (o.position) a.position = o.position;
  if (o.inverse) a.inverse = true;
  var arr = kind === 'x' ? option.xAxis : option.yAxis;
  arr.push(a);
  return arr.length - 1;
}
function txt(x, y, s, fs, o) {
  o = o || {};
  G.push({type:'text', x:x, y:y, rotation:o.rot || 0, silent:true, z:50,
    style:{text:s, fontSize:fs, fontFamily:FONT, fontWeight:o.bold ? 'bold' : 'normal', fill:o.color || '#111',
      align:o.align || 'center', verticalAlign:'middle'}});
}
function rect(x, y, w, h, fill) { G.push({type:'rect', silent:true, z:50, shape:{x:x, y:y, width:w, height:h}, style:{fill:fill}}); }
function seg(x1, y1, x2, y2, stroke, lw) { G.push({type:'line', silent:true, z:51, shape:{x1:x1, y1:y1, x2:x2, y2:y2}, style:{stroke:stroke, lineWidth:lw || 1}}); }
function dot(cx, cy, r, fill) { G.push({type:'circle', silent:true, z:50, shape:{cx:cx, cy:cy, r:r}, style:{fill:fill}}); }
var VERT = Math.PI / 2;

// ---------------- Kaplan-Meier + risk table ----------------
function survAt(curve, t) {
  var s = curve[0][1];
  for (var i = 0; i < curve.length; i++) if (curve[i][0] <= t) s = curve[i][1];
  return s;
}
function bandSeries(xi, yi, band, fill) {
  return {type:'custom', xAxisIndex:xi, yAxisIndex:yi, data:band, silent:true, z:1,
    renderItem:function (params, api) {
      if (params.dataIndex !== 0) return null;
      var up = [], lo = [];
      for (var i = 0; i < band.length; i++) {
        var t2 = i < band.length - 1 ? band[i + 1][0] : band[i][0];
        up.push(api.coord([band[i][0], band[i][2]]), api.coord([t2, band[i][2]]));
        lo.push(api.coord([band[i][0], band[i][1]]), api.coord([t2, band[i][1]]));
      }
      return {type:'polygon', shape:{points:up.concat(lo.reverse())}, style:{fill:fill}};
    }};
}
function kmKey(x, y, band, line) {
  rect(x, y - 4, 12.6, 8, band);
  seg(x, y, x + 12.6, y, line, 1);
  seg(x + 6.3, y - 2.5, x + 6.3, y + 2.5, line, 1);
}
function kmPanel(L, D, pval) {
  var g = grid(L.left, L.top, L.width, L.height);
  var xi = vAxis('x', g, L.xmin, L.xmax, D.years);
  var yi = vAxis('y', g, L.ymin, L.ymax, probTicks, {fmt:function (v) { return v.toFixed(2); }});
  option.series.push(bandSeries(xi, yi, D.highBand, C_HIGH_BAND), bandSeries(xi, yi, D.lowBand, C_LOW_BAND));
  [[D.high, C_HIGH, D.censHigh], [D.low, C_LOW, D.censLow]].forEach(function (c) {
    option.series.push({type:'line', xAxisIndex:xi, yAxisIndex:yi, data:c[0], step:'end', symbol:'none',
      lineStyle:{color:c[1], width:1.2}, z:3, silent:true});
    option.series.push({type:'scatter', xAxisIndex:xi, yAxisIndex:yi, symbol:CROSS, symbolSize:5, z:4, silent:true,
      data:c[2].map(function (t) { return [t, survAt(c[0], t)]; }), itemStyle:{color:c[1]}});
  });
  // number-at-risk table
  var g2 = grid(L.left, L.tabTop, L.width, L.tabH);
  var xi2 = vAxis('x', g2, L.xmin, L.xmax, D.years);
  option.yAxis.push({type:'category', gridIndex:g2, data:['High risk', 'Low risk'], inverse:true,
    axisLine:{lineStyle:{color:'#000', width:0.8}},
    axisTick:{length:2.5, alignWithLabel:true, interval:0, lineStyle:{color:'#000', width:0.8}},
    axisLabel:{fontSize:7.6, margin:3, interval:0, hideOverlap:false,
      color:function (v) { return v === 'High risk' ? C_HIGH : C_LOW; }},
    splitLine:{show:false}});
  var yi2 = option.yAxis.length - 1;
  var cells = [];
  D.years.forEach(function (t, i) { cells.push([t, 'High risk', D.tabHigh[i]]); cells.push([t, 'Low risk', D.tabLow[i]]); });
  option.series.push({type:'scatter', xAxisIndex:xi2, yAxisIndex:yi2, data:cells, symbolSize:1, silent:true,
    itemStyle:{color:'rgba(0,0,0,0)'},
    label:{show:true, position:'inside', fontSize:8, color:'#111', formatter:function (p) { return String(p.value[2]); }}});
  // texts
  var cx = L.left + L.width / 2;
  txt(cx, L.titleY, 'Time(years)', 9);
  txt(cx, L.tabTitleY, 'Time(years)', 9);
  txt(L.spX, L.spY, 'Survival probability', 8.5, {rot:VERT});
  txt(L.rkX, L.rkY, 'Risk', 9.5, {rot:VERT});
  txt(L.pX, L.pY, pval, 7.5, {align:'left'});
  txt(L.legRisk, L.legY, 'Risk', 6);
  kmKey(L.legH, L.legY, C_HIGH_BAND, C_HIGH);
  txt(L.legHt, L.legY, 'High risk', 6, {align:'left'});
  kmKey(L.legL, L.legY, C_LOW_BAND, C_LOW);
  txt(L.legLt, L.legY, 'Low risk', 6, {align:'left'});
}

// ---------------- risk score / survival status ----------------
function midAxes(L, xt, yt) {
  var g = grid(L.left, L.top, L.width, L.height, true);
  var xi = vAxis('x', g, L.xmin, L.xmax, xt, {line:false, lineColor:'#444', tickLen:3, margin:5, fs:7.8});
  var yi = vAxis('y', g, L.ymin, L.ymax, yt, {line:false, lineColor:'#444', tickLen:3, margin:4, rot:90, fs:7.8});
  return [xi, yi];
}
function dashLines(marks) {
  return {silent:true, symbol:'none', label:{show:false}, animation:false,
    lineStyle:{type:[3, 2], color:'#555', width:0.8}, data:marks};
}
function scorePanel(L, pairs, nLow, thr, xt, yt) {
  var ax = midAxes(L, xt, yt);
  var lo = pairs.filter(function (p) { return p[0] <= nLow; });
  var hi = pairs.filter(function (p) { return p[0] > nLow; });
  option.series.push({type:'scatter', xAxisIndex:ax[0], yAxisIndex:ax[1], data:lo, symbolSize:L.ps, itemStyle:{color:C_GREEN}, silent:true});
  option.series.push({type:'scatter', xAxisIndex:ax[0], yAxisIndex:ax[1], data:hi, symbolSize:L.ps, itemStyle:{color:C_RED}, silent:true,
    markLine:dashLines([{xAxis:nLow + 0.5}, {yAxis:thr}])});
  txt(L.tx, L.ty, 'Patients (increasing risk socre)', 7.5);
  txt(L.yx, L.yy, 'Risk score', 7.8, {rot:VERT});
  dot(L.dx, L.l1, 2.7, C_RED); txt(L.lx, L.l1, 'High risk', 9, {align:'left'});
  dot(L.dx, L.l2, 2.7, C_GREEN); txt(L.lx, L.l2, 'low Risk', 9, {align:'left'});
}
function survPanel(L, surv, bcr, nLow, xt, yt) {
  var ax = midAxes(L, xt, yt);
  var red = [], green = [];
  surv.forEach(function (v, i) { (bcr.indexOf(i + 1) >= 0 ? red : green).push([i + 1, v]); });
  option.series.push({type:'scatter', xAxisIndex:ax[0], yAxisIndex:ax[1], data:green, symbolSize:4.6, itemStyle:{color:C_GREEN}, silent:true,
    markLine:dashLines([{xAxis:nLow + 0.5}])});
  option.series.push({type:'scatter', xAxisIndex:ax[0], yAxisIndex:ax[1], data:red, symbolSize:4.6, itemStyle:{color:C_RED}, silent:true});
  txt(L.tx, L.ty, 'Patients (increasing risk socre)', 7.5);
  txt(L.yx, L.yy, 'Survival time (years)', 7.5, {rot:VERT});
  dot(L.dx, L.l1, 2.7, C_RED); txt(L.lx, L.l1, 'BCR', 9, {align:'left'});
  dot(L.dx, L.l2, 2.7, C_GREEN); txt(L.lx, L.l2, 'BCRF', 9, {align:'left'});
}

// ---------------- heatmap ----------------
function dendroSeries(xi, yi, h) {
  var m3 = (3 + 4.5) / 2, m4 = (2 + m3) / 2;
  var segs = [
    [[0, 0], [h[0], 0], [h[0], 1], [0, 1]],
    [[0, 4], [h[1], 4], [h[1], 5], [0, 5]],
    [[0, 3], [h[2], 3], [h[2], 4.5], [h[1], 4.5]],
    [[0, 2], [h[3], 2], [h[3], m3], [h[2], m3]],
    [[h[0], 0.5], [h[4], 0.5], [h[4], m4], [h[3], m4]]
  ];
  return {type:'lines', coordinateSystem:'cartesian2d', xAxisIndex:xi, yAxisIndex:yi, polyline:true, silent:true,
    data:segs.map(function (c) { return {coords:c}; }), lineStyle:{color:'#555', width:0.8, opacity:1}};
}
function heatPanel(L, rows, nLow, nHigh, vm, dh, cbTicks) {
  var ncol = rows[0].length, cats = [];
  for (var i = 0; i < ncol; i++) cats.push(String(i));
  var g = grid(L.left, L.top, L.width, L.height);
  option.xAxis.push({type:'category', gridIndex:g, data:cats, show:false});
  var xi = option.xAxis.length - 1;
  option.yAxis.push({type:'category', gridIndex:g, data:genes, inverse:true, position:'right',
    axisLine:{show:false}, axisTick:{show:false}, axisLabel:{fontSize:7.3, margin:2.5, color:'#111', interval:0}, splitLine:{show:false}});
  var yi = option.yAxis.length - 1;
  var cells = [];
  rows.forEach(function (row, r) { row.forEach(function (v, c) { cells.push([c, r, v === null ? '-' : v]); }); });
  option.series.push({type:'heatmap', xAxisIndex:xi, yAxisIndex:yi, data:cells, silent:true, itemStyle:{borderWidth:0}});
  option.visualMap.push({type:'continuous', seriesIndex:option.series.length - 1, min:vm[0], max:vm[1], show:true,
    calculable:false, hoverLink:false, left:L.cb[0], top:L.cb[1], itemWidth:L.cb[2], itemHeight:L.cb[3], padding:0,
    inRange:{color:HM_COLORS}});
  // colour bar tick labels
  var gc = grid(L.cb[0], L.cb[1], L.cb[2], L.cb[3]);
  vAxis('x', gc, 0, 1, null, {show:false});
  vAxis('y', gc, vm[0], vm[1], cbTicks, {position:'right', line:false, noTick:true, fs:6.5, margin:3});
  // annotation bar
  var ga = grid(L.left, L.annTop, L.width, L.annH);
  var xa = vAxis('x', ga, 0, nLow + nHigh, null, {show:false});
  option.yAxis.push({type:'category', gridIndex:ga, data:['type'], position:'right', axisLine:{show:false}, axisTick:{show:false},
    axisLabel:{fontSize:6.5, fontWeight:'bold', margin:2.5, color:'#111'}, splitLine:{show:false}});
  var ya = option.yAxis.length - 1;
  option.series.push({type:'bar', xAxisIndex:xa, yAxisIndex:ya, stack:'ann' + ga, data:[nLow], barWidth:'100%', silent:true, itemStyle:{color:C_TLOW}});
  option.series.push({type:'bar', xAxisIndex:xa, yAxisIndex:ya, stack:'ann' + ga, data:[nHigh], barWidth:'100%', silent:true, itemStyle:{color:C_THIGH}});
  // dendrogram
  var gd = grid(L.dLeft, L.top, L.left - L.dLeft, L.height);
  var xd = vAxis('x', gd, 0, 1, null, {show:false, inverse:true});
  var yd = vAxis('y', gd, -0.5, 5.5, null, {show:false, inverse:true});
  option.series.push(dendroSeries(xd, yd, dh));
  // type legend
  txt(L.legX, L.legY, 'type', 6.5, {bold:true, align:'left'});
  rect(L.legX, L.sw1, 10.3, 9, C_THIGH); txt(L.legX + 12, L.sw1 + 4.5, 'high', 6.5, {align:'left'});
  rect(L.legX, L.sw1 + 9, 10.3, 9, C_TLOW); txt(L.legX + 12, L.sw1 + 13.5, 'low', 6.5, {align:'left'});
}

// ---------------- ROC ----------------
function rocPanel(L, curves, aucs) {
  var g = grid(L.left, L.top, L.width, L.height, true);
  var f1 = function (v) { return v.toFixed(1); };
  var xi = vAxis('x', g, -0.04, 1.04, rocTicks, {line:false, lineColor:'#444', tickLen:3, margin:5, fs:7.5, fmt:f1});
  var yi = vAxis('y', g, -0.04, 1.04, rocTicks, {line:false, lineColor:'#444', tickLen:3, margin:4, rot:90, fs:7.5, fmt:f1});
  option.series.push({type:'line', xAxisIndex:xi, yAxisIndex:yi, data:[[-0.04, -0.04], [1.04, 1.04]], symbol:'none', silent:true,
    lineStyle:{type:[2, 2], color:'#555', width:0.8}});
  curves.forEach(function (c, i) {
    option.series.push({type:'line', xAxisIndex:xi, yAxisIndex:yi, data:c, symbol:'none', silent:true,
      lineStyle:{color:C_ROC[i], width:1.3}});
  });
  txt(L.left + L.width / 2, L.xtY, '1\u2212Specificity', 7.3);
  txt(L.ytX, L.top + L.height / 2, 'Sensitivity', 7.3, {rot:VERT});
  var yrs = ['1', '3', '5'];
  for (var i = 0; i < 3; i++) {
    seg(L.lg[0], L.lg[3 + i], L.lg[1], L.lg[3 + i], C_ROC[i], 1.3);
    txt(L.lg[2], L.lg[3 + i], 'AUC at ' + yrs[i] + ' years: ' + aucs[i], 7, {align:'left'});
  }
}

// ---------------- layout per row ----------------
kmPanel({left:70, top:38, width:251, height:138, xmin:-0.72, xmax:15.72, ymin:-0.048, ymax:1.056, tabTop:219, tabH:21,
  titleY:193, tabTitleY:257.3, spX:28, spY:107, rkX:29, rkY:230, pX:86, pY:146,
  legY:22.3, legRisk:153, legH:163, legHt:178, legL:205.7, legLt:219.5},
  {high:kmA_high, highBand:kmA_highBand, low:kmA_low, lowBand:kmA_lowBand, censHigh:censA_high, censLow:censA_low,
   tabHigh:tabA_high, tabLow:tabA_low, years:years15}, pvals[0]);
kmPanel({left:72.7, top:318.3, width:238.3, height:124.7, xmin:-0.63, xmax:12.61, ymin:-0.05, ymax:1.053, tabTop:483, tabH:18.7,
  titleY:457.7, tabTitleY:516, spX:35, spY:381.7, rkX:34, rkY:490.7, pX:88, pY:414.7,
  legY:302.7, legRisk:152, legH:162, legHt:175, legL:202.7, legLt:215.7},
  {high:kmB_high, highBand:kmB_highBand, low:kmB_low, lowBand:kmB_lowBand, censHigh:censB_high, censLow:censB_low,
   tabHigh:tabB_high, tabLow:tabB_low, years:years12}, pvals[1]);
kmPanel({left:71.7, top:593.3, width:240.6, height:125.7, xmin:-0.775, xmax:15.73, ymin:-0.046, ymax:1.052, tabTop:758.3, tabH:20,
  titleY:734.3, tabTitleY:793.3, spX:33.3, spY:656.7, rkX:32.7, rkY:768.3, pX:86.7, pY:691,
  legY:578, legRisk:152, legH:161.7, legHt:175, legL:202.7, legLt:215.7},
  {high:kmC_high, highBand:kmC_highBand, low:kmC_low, lowBand:kmC_lowBand, censHigh:censC_high, censLow:censC_low,
   tabHigh:tabC_high, tabLow:tabC_low, years:years15}, pvals[2]);
kmPanel({left:74, top:912.7, width:239.3, height:130, xmin:-0.61, xmax:12.25, ymin:-0.051, ymax:1.054, tabTop:1083.3, tabH:21.7,
  titleY:1058.3, tabTitleY:1119.3, spX:36, spY:980, rkX:35.7, rkY:1093.3, pX:90.3, pY:1014.3,
  legY:896.7, legRisk:154.7, legH:163.7, legHt:180, legL:204.7, legLt:218.3},
  {high:kmD_high, highBand:kmD_highBand, low:kmD_low, lowBand:kmD_lowBand, censHigh:censD_high, censLow:censD_low,
   tabHigh:tabD_high, tabLow:tabD_low, years:years12}, pvals[3]);

var pt200 = [0,50,100,150,200], pt400 = [0,100,200,300,400], pt120 = [0,20,40,60,80,100,120];
var score10 = [0,2,4,6,8,10], score4 = [0,1,2,3,4], surv12a = [0,4,8,12], surv12b = [0,2,4,6,8,10,12];

scorePanel({left:373, top:31, width:395, height:81, xmin:-8.7, xmax:215.5, ymin:-0.9, ymax:10.7, ps:3.4,
  tx:572, ty:140, yx:345, yy:72, dx:386, lx:392, l1:44.3, l2:55.7}, riskA, 104, 0.78, pt200, score10);
survPanel({left:372.7, top:155.7, width:395.3, height:76.3, xmin:-6.6, xmax:217.4, ymin:-1.0, ymax:14.0,
  tx:572, ty:262.3, yx:343, yy:193, dx:380, lx:387, l1:165, l2:176.7}, survA, bcrA, 104, pt200, surv12a);
scorePanel({left:373.3, top:305, width:395, height:82.3, xmin:-7.9, xmax:214.6, ymin:-0.95, ymax:10.86, ps:3.4,
  tx:570.7, ty:415, yx:343, yy:342, dx:382, lx:390, l1:319.3, l2:331}, riskB, 98, 0.82, pt200, score10);
survPanel({left:373.3, top:426, width:397.4, height:76.7, xmin:-7.9, xmax:215.8, ymin:-0.7, ymax:12.2,
  tx:571, ty:530, yx:345, yy:463.3, dx:382.3, lx:390, l1:436, l2:446}, survB, bcrB, 98, pt200, surv12a);
scorePanel({left:373.3, top:596, width:400, height:77.3, xmin:-17.7, xmax:425.9, ymin:-0.57, ymax:10.47, ps:3.2,
  tx:575, ty:703.3, yx:345, yy:633.3, dx:384.3, lx:392.7, l1:607.7, l2:618.7}, riskC, 202, 0.76, pt400, score10);
survPanel({left:378.3, top:716, width:395, height:76.3, xmin:-15.6, xmax:423.3, ymin:-0.5, ymax:14.4,
  tx:578.3, ty:824, yx:348.3, yy:753.3, dx:385.7, lx:395, l1:727.7, l2:739}, survC, bcrC, 202, pt400, surv12a);
var riskDPairs = riskD.map(function (v, i) { return [i + 1, v]; });
scorePanel({left:377.3, top:875, width:404.7, height:77.3, xmin:-4.06, xmax:136.3, ymin:-0.07, ymax:4.53, ps:3,
  tx:580, ty:986, yx:345, yy:915, dx:385.7, lx:394, l1:887.3, l2:898.3}, riskDPairs, 79, 0.73, pt120, score4);
survPanel({left:379.3, top:1011.7, width:402.7, height:76.6, xmin:-3.9, xmax:134.9, ymin:-0.38, ymax:12.38,
  tx:580, ty:1120.7, yx:346.7, yy:1053, dx:387.7, lx:396, l1:1022.3, l2:1033.3}, survD, bcrD, 79, pt120, surv12b);

heatPanel({left:835, top:68.3, width:371, height:155, annTop:59.3, annH:6.7, dLeft:800, cb:[1245, 59, 6, 101.7],
  legX:1265, legY:61.7, sw1:66.7},
  [hmA_ADH5, hmA_DECR1, hmA_BCHE, hmA_SLC27A2, hmA_AHR, hmA_SRD5A2], 104, 103, [1.12, 6.43], dendA, [2,3,4,5,6]);
heatPanel({left:831, top:322, width:374, height:156, annTop:313, annH:7, dLeft:795, cb:[1246, 313, 6, 102],
  legX:1265, legY:315.7, sw1:320.7},
  [hmB_ADH5, hmB_DECR1, hmB_BCHE, hmB_SLC27A2, hmB_AHR, hmB_SRD5A2], 98, 106, [1.12, 6.43], dendB, [2,3,4,5,6]);
heatPanel({left:832, top:626, width:373, height:155, annTop:617, annH:7, dLeft:796, cb:[1246, 617, 6, 102],
  legX:1265, legY:619.7, sw1:624.7},
  [hmC_ADH5, hmC_DECR1, hmC_BCHE, hmC_SLC27A2, hmC_AHR, hmC_SRD5A2], 202, 209, [1.12, 6.43], dendC, [2,3,4,5,6]);
heatPanel({left:835, top:915, width:372.7, height:156.7, annTop:906, annH:7.3, dLeft:799.3, cb:[1248.3, 905, 6, 103.3],
  legX:1267, legY:908.3, sw1:912.7},
  [hmD_ADH5, hmD_DECR1, hmD_BCHE, hmD_SLC27A2, hmD_AHR, hmD_SRD5A2], 79, 52, [-3.8, 5.6], dendD, [-2,0,2,4]);

rocPanel({left:1341.7, top:45.7, width:217.3, height:191.6, xtY:270, ytX:1310.7, lg:[1465.7, 1483.3, 1486.7, 210, 218.7, 227.3]},
  [rocA_1, rocA_3, rocA_5], aucA);
rocPanel({left:1342.3, top:305.3, width:217, height:177, xtY:510, ytX:1311.7, lg:[1464, 1481.7, 1485, 457.3, 466, 475]},
  [rocB_1, rocB_3, rocB_5], aucB);
rocPanel({left:1343.3, top:583.3, width:216, height:175.7, xtY:788.3, ytX:1311.7, lg:[1464, 1481.7, 1485, 734, 742.3, 751]},
  [rocC_1, rocC_3, rocC_5], aucC);
rocPanel({left:1342.3, top:902.7, width:217, height:175.6, xtY:1108.3, ytX:1310.7, lg:[1465, 1482.7, 1486, 1053.3, 1061.7, 1070]},
  [rocD_1, rocD_3, rocD_5], aucD);

// panel letters
txt(1, 15, 'A', 28, {bold:true, align:'left', color:'#000'});
txt(1, 301, 'B', 28, {bold:true, align:'left', color:'#000'});
txt(1, 580, 'C', 28, {bold:true, align:'left', color:'#000'});
txt(1, 881, 'D', 28, {bold:true, align:'left', color:'#000'});

var chart = echarts.init(document.getElementById('main'), null, {renderer:'canvas'});
chart.setOption(option);
</script>
</body>
</html>
